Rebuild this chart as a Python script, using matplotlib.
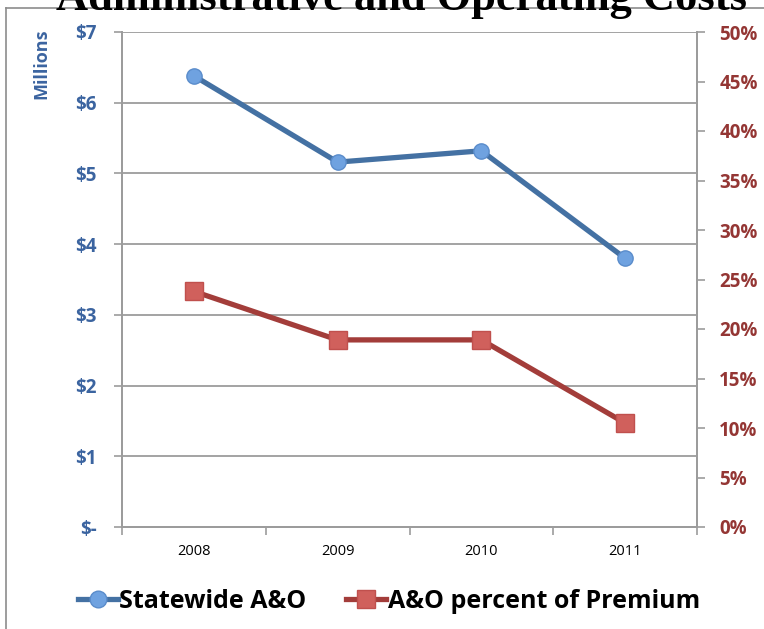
import matplotlib.pyplot as plt
from matplotlib.lines import Line2D

years = ["2008", "2009", "2010", "2011"]
statewide_millions = [6.38, 5.16, 5.32, 3.80]
pct_of_premium = [23.8, 18.9, 18.9, 10.5]
left_ticks = [0, 1, 2, 3, 4, 5, 6, 7]
left_labels = ["$-", "$1", "$2", "$3", "$4", "$5", "$6", "$7"]
right_ticks = [0, 5, 10, 15, 20, 25, 30, 35, 40, 45, 50]

BLUE = "#4471A3"
BLUE_TXT = "#3B64A0"
RED = "#A33D3A"
RED_TXT = "#943634"
GRID = "#9C9C9C"
FONT = "Open Sans"

fig = plt.figure(figsize=(7.64, 6.29), dpi=100)
ax = fig.add_axes([122 / 764, 1 - 527 / 629, 575 / 764, 495 / 629])
ax2 = ax.twinx()

x = range(len(years))
ax.plot(x, statewide_millions, color=BLUE, lw=3.8, marker="o", ms=11,
        mfc="#6FA2E0", mec="#5A8CCB", mew=1, zorder=3, solid_capstyle="round")
ax2.plot(x, pct_of_premium, color=RED, lw=3.8, marker="s", ms=13,
         mfc="#D0605C", mec="#C0504D", mew=1, zorder=3)

ax.set_xlim(-0.5, len(years) - 0.5)
ax.set_ylim(0, 7)
ax2.set_ylim(0, 50)

ax.set_yticks(left_ticks)
ax.set_yticklabels(left_labels)
ax2.set_yticks(right_ticks)
ax2.set_yticklabels([f"{v}%" for v in right_ticks])

ax.set_xticks(list(x))
ax.set_xticklabels(years)
ax.set_xticks([i - 0.5 for i in range(len(years) + 1)], minor=True)
ax.tick_params(axis="x", which="major", length=0, pad=12, labelsize=10.5,
               labelcolor="black")
ax.tick_params(axis="x", which="minor", length=6, color=GRID, width=1.2,
               direction="out")

ax.yaxis.grid(True, color=GRID, lw=1.3)
ax.set_axisbelow(True)

for a in (ax, ax2):
    a.spines["top"].set_visible(False)
    for s in ("left", "right", "bottom"):
        a.spines[s].set_color(GRID)
        a.spines[s].set_linewidth(1.3)

ax.tick_params(axis="y", length=6, color=GRID, width=1.2, pad=12,
               labelcolor=BLUE_TXT, labelsize=13.5)
ax2.tick_params(axis="y", length=6, color=GRID, width=1.2, pad=10,
                labelcolor=RED_TXT, labelsize=13.5)
for lbl in ax.get_yticklabels():
    lbl.set_fontweight("bold")
    lbl.set_fontfamily(FONT)
for lbl in ax2.get_yticklabels():
    lbl.set_fontweight("bold")
    lbl.set_fontfamily(FONT)
for lbl in ax.get_xticklabels():
    lbl.set_fontfamily(FONT)

fig.text(41 / 764, 1 - 64 / 629, "Millions", rotation=90, ha="center",
         va="center", color=BLUE_TXT, fontweight="bold", fontsize=13,
         family=FONT)

# outer chart frame (left and top edges)
fx, fy = 6 / 764, 1 - 8 / 629
fig.add_artist(Line2D([fx, fx], [0, fy], transform=fig.transFigure,
                      color="#8C8C8C", lw=1.2))
fig.add_artist(Line2D([fx, 1], [fy, fy], transform=fig.transFigure,
                      color="#8C8C8C", lw=1.2))

fig.text(0.525, 1 - 10 / 629, "Administrative and Operating Costs",
         ha="center", va="baseline", fontsize=32, fontweight="bold",
         family="Liberation Serif", color="black")

handles = [
    Line2D([], [], color=BLUE, lw=3.8, marker="o", ms=12, mfc="#6FA2E0",
           mec="#5A8CCB"),
    Line2D([], [], color=RED, lw=3.8, marker="s", ms=13, mfc="#D0605C",
           mec="#C0504D"),
]
fig.legend(handles, ["Statewide A&O", "A&O percent of Premium"],
           loc="center", bbox_to_anchor=(0.509, 1 - 601 / 629), ncol=2,
           frameon=False, handlelength=1.6, handletextpad=0.05,
           columnspacing=1.6,
           prop={"family": FONT, "weight": "bold", "size": 18})

fig.savefig("out.png", dpi=100)
